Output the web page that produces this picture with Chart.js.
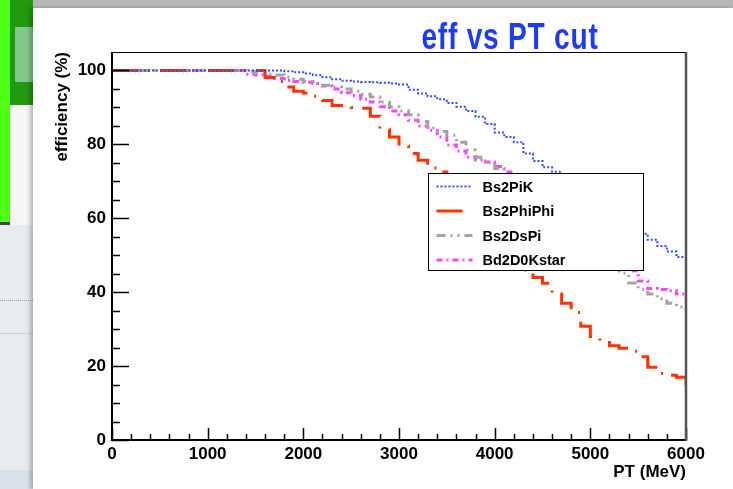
<!DOCTYPE html>
<html>
<head>
<meta charset="utf-8">
<title>eff vs PT cut</title>
<script src="https://cdn.jsdelivr.net/npm/chart.js@4.4.1/dist/chart.umd.min.js"></script>
<style>
  html, body { margin: 0; padding: 0; }
  body { width: 733px; height: 489px; position: relative; overflow: hidden; background: #e9ecef; }
  .bg { position: absolute; }
  #panel { position: absolute; left: 33px; top: 8px; width: 700px; height: 481px; background: #fff;
           box-shadow: -3px 0 4px rgba(0,0,0,0.25); }
  #title { position: absolute; left: 390px; top: 15px; width: 240px; text-align: center; white-space: nowrap;
           font-family: "Liberation Sans", Arial, sans-serif; font-weight: bold; font-size: 36px; line-height: 44px;
           color: #1f3cf2; letter-spacing: 1px; transform: scaleX(0.78); transform-origin: 50% 50%; }
</style>
</head>
<body>
<div class="bg" style="left:0;top:0;width:733px;height:8px;background:#b6b6b6"></div>
<div class="bg" style="left:0;top:0;width:10px;height:224px;background:#4dff14"></div>
<div class="bg" style="left:0;top:222px;width:10px;height:3px;background:#444"></div>
<div class="bg" style="left:10px;top:0;width:23px;height:105px;background:#22990f"></div>
<div class="bg" style="left:15px;top:27px;width:18px;height:55px;background:#7fc98a"></div>
<div class="bg" style="left:10px;top:105px;width:23px;height:120px;background:#f6f6f6"></div>
<div class="bg" style="left:0;top:300px;width:33px;height:0;border-top:1px dotted #999"></div>
<div class="bg" style="left:0;top:333px;width:33px;height:0;border-top:1px dotted #bbb"></div>
<div class="bg" style="left:0;top:470px;width:33px;height:19px;background:#d9e2ea"></div>
<div id="panel"><canvas id="effChart" width="700" height="481"></canvas></div>
<div id="title">eff vs PT cut</div>
<script>
// PT cut values (MeV), one per 100 MeV bin
const ptCuts = [0, 100, 200, 300, 400, 500, 600, 700, 800, 900,
    1000, 1100, 1200, 1300, 1400, 1500, 1600, 1700, 1800, 1900,
    2000, 2100, 2200, 2300, 2400, 2500, 2600, 2700, 2800, 2900,
    3000, 3100, 3200, 3300, 3400, 3500, 3600, 3700, 3800, 3900,
    4000, 4100, 4200, 4300, 4400, 4500, 4600, 4700, 4800, 4900,
    5000, 5100, 5200, 5300, 5400, 5500, 5600, 5700, 5800, 5900, 6000];

// efficiency (%) per channel
const effBs2PiK = [100, 100, 100, 100, 100, 100, 100, 100, 100, 100,
    100, 100, 100, 100, 100, 100, 100, 100, 99.8, 99.5,
    99.2, 98.7, 98.2, 97.6, 97.2, 97.0, 96.9, 96.8, 96.7, 96.5,
    96.2, 94.8, 93.8, 93.0, 92.2, 91.2, 90.2, 89.0, 87.5, 85.5,
    83.2, 82.0, 80.6, 77.5, 75.5, 73.8, 72.6, 71.0, 69.0, 67.0,
    65.0, 63.2, 61.5, 59.5, 57.5, 55.8, 54.2, 52.5, 51.0, 49.5, 48.2];
const effBs2PhiPhi = [100, 100, 100, 100, 100, 100, 100, 100, 100, 100,
    100, 100, 100, 100, 100, 100, 98.1, 97.0, 95.5, 94.4,
    93.9, 93.0, 91.9, 90.5, 90.1, 90.0, 89.8, 87.6, 84.1, 82.0,
    79.5, 77.5, 75.7, 73.6, 72.5, 69.8, 66.8, 64.0, 61.0, 58.0,
    55.0, 52.0, 49.0, 46.0, 44.0, 42.4, 39.5, 37.0, 34.5, 30.8,
    28.0, 26.4, 25.5, 24.8, 24.0, 22.5, 19.7, 18.0, 17.5, 17.0, 14.8];
const effBs2DsPi = [100, 100, 100, 100, 100, 100, 100, 100, 100, 100,
    100, 100, 100, 100, 99.7, 99.2, 99.0, 98.8, 98.2, 97.6,
    97.0, 96.5, 96.0, 95.5, 95.0, 94.4, 93.6, 92.8, 91.5, 90.2,
    89.0, 88.0, 86.2, 84.4, 83.5, 82.5, 80.6, 78.5, 76.5, 75.0,
    73.5, 71.8, 69.8, 67.8, 65.8, 63.8, 61.8, 59.8, 57.8, 55.6,
    53.2, 50.5, 47.5, 45.2, 42.5, 40.8, 39.5, 38.2, 37.0, 36.0, 35.2];
const effBd2D0Kstar = [100, 100, 100, 100, 100, 100, 100, 100, 100, 100,
    100, 100, 100, 100, 99.0, 98.8, 98.4, 97.8, 97.3, 97.0,
    96.8, 96.5, 95.8, 95.0, 94.0, 93.2, 92.2, 91.5, 90.2, 89.0,
    88.0, 86.5, 85.0, 83.8, 82.0, 79.8, 78.2, 76.5, 75.8, 75.2,
    74.0, 72.5, 70.5, 68.5, 66.5, 64.5, 62.5, 60.5, 58.5, 56.5,
    54.5, 52.5, 50.2, 48.0, 45.8, 43.0, 41.0, 40.7, 40.4, 39.5, 38.5];

const channelNames = ['Bs2PiK', 'Bs2PhiPhi', 'Bs2DsPi', 'Bd2D0Kstar'];

// Axis ranges and tick labels
const xRange = [0, 6000];
const yRange = [0, 105];
const xTickValues = [0, 1000, 2000, 3000, 4000, 5000, 6000];
const yTickValues = [0, 20, 40, 60, 80, 100];
const xMinorStep = 200, yMinorStep = 5;

const boldFont = '"Liberation Sans", Arial, Helvetica, sans-serif';

function toPoints(values) {
    return values.map((v, i) => ({ x: ptCuts[i], y: v }));
}

function makeDataset(label, values, color, width, dash) {
    return {
        label: label,
        data: toPoints(values),
        borderColor: color,
        backgroundColor: color,
        borderWidth: width,
        borderDash: dash,
        borderCapStyle: 'butt',
        stepped: true,
        pointRadius: 0,
        fill: false
    };
}

// Frame, inward ticks and the boxed legend, ROOT style
const rootFramePlugin = {
    id: 'rootFrame',
    afterDraw(chart) {
        const ctx = chart.ctx;
        const area = chart.chartArea;
        const xs = chart.scales.x;
        const ys = chart.scales.y;
        ctx.save();

        // ticks
        ctx.strokeStyle = '#000';
        ctx.lineWidth = 1.5;
        ctx.beginPath();
        for (let v = xRange[0]; v <= xRange[1]; v += xMinorStep) {
            const px = Math.round(xs.getPixelForValue(v)) + 0.5;
            const len = xTickValues.includes(v) ? 12 : 6;
            ctx.moveTo(px, area.bottom);
            ctx.lineTo(px, area.bottom - len);
        }
        for (let v = 0; v <= 100; v += yMinorStep) {
            const py = Math.round(ys.getPixelForValue(v)) + 0.5;
            const len = yTickValues.includes(v) ? 17 : 8;
            ctx.moveTo(area.left, py);
            ctx.lineTo(area.left + len, py);
        }
        ctx.stroke();

        // frame
        ctx.lineWidth = 1.2;
        ctx.beginPath();
        ctx.moveTo(area.left, area.top + 0.5);
        ctx.lineTo(area.right, area.top + 0.5);
        ctx.stroke();
        ctx.lineWidth = 2;
        ctx.beginPath();
        ctx.moveTo(area.left, area.top);
        ctx.lineTo(area.left, area.bottom);
        ctx.lineTo(area.right, area.bottom);
        ctx.stroke();
        ctx.strokeStyle = '#555';
        ctx.lineWidth = 2.5;
        ctx.beginPath();
        ctx.moveTo(area.right, area.top);
        ctx.lineTo(area.right, area.bottom + 1);
        ctx.stroke();

        // legend box
        const w = area.right - area.left;
        const h = area.bottom - area.top;
        const bx = Math.round(area.left + 0.551 * w) + 0.5;
        const by = Math.round(area.top + 0.311 * h) + 0.5;
        const bw = 215, bh = 97;
        ctx.fillStyle = '#fff';
        ctx.fillRect(bx, by, bw, bh);
        ctx.strokeStyle = '#000';
        ctx.lineWidth = 1;
        ctx.strokeRect(bx, by, bw, bh);

        ctx.font = 'bold 14.5px ' + boldFont;
        ctx.textBaseline = 'middle';
        ctx.textAlign = 'left';
        chart.data.datasets.forEach((ds, i) => {
            const ry = by + 13 + i * 24.5;
            ctx.save();
            ctx.strokeStyle = ds.borderColor;
            ctx.lineWidth = ds.borderWidth;
            ctx.setLineDash(ds.borderDash || []);
            ctx.beginPath();
            ctx.moveTo(bx + 8, ry);
            ctx.lineTo(bx + 44, ry);
            ctx.stroke();
            ctx.restore();
            ctx.fillStyle = '#000';
            ctx.fillText(ds.label, bx + 54, ry + 1);
        });

        ctx.restore();
    }
};

const ctx = document.getElementById('effChart').getContext('2d');
const chart = new Chart(ctx, {
    type: 'line',
    data: {
        datasets: [
            makeDataset(channelNames[0], effBs2PiK, '#2d4cff', 2, [2, 2]),
            makeDataset(channelNames[1], effBs2PhiPhi, '#ff3300', 3, [26, 10, 2, 10]),
            makeDataset(channelNames[2], effBs2DsPi, '#a3a3a3', 3, [9, 5, 2, 5, 2, 5]),
            makeDataset(channelNames[3], effBd2D0Kstar, '#ff44ff', 3, [6, 4, 2, 4])
        ]
    },
    options: {
        responsive: false,
        animation: false,
        devicePixelRatio: 1,
        layout: { padding: { top: 44, right: 47, left: 0, bottom: 0 } },
        plugins: {
            legend: { display: false },
            title: { display: false },
            tooltip: { enabled: false }
        },
        scales: {
            x: {
                type: 'linear',
                min: xRange[0],
                max: xRange[1],
                grid: { display: false, drawTicks: false },
                border: { display: false },
                ticks: {
                    padding: 4,
                    color: '#000',
                    maxRotation: 0,
                    autoSkip: false,
                    callback: (v) => String(v),
                    font: { family: boldFont, size: 17, weight: 'bold' }
                },
                title: {
                    display: true,
                    text: 'PT (MeV)',
                    align: 'end',
                    color: '#000',
                    padding: { top: 0, bottom: 6 },
                    font: { family: boldFont, size: 17, weight: 'bold' }
                },
                afterBuildTicks(scale) {
                    scale.ticks = xTickValues.map(v => ({ value: v }));
                },
                afterFit(scale) { scale.height = 49; }
            },
            y: {
                min: yRange[0],
                max: yRange[1],
                grid: { display: false, drawTicks: false },
                border: { display: false },
                ticks: {
                    padding: 6,
                    color: '#000',
                    autoSkip: false,
                    callback: (v) => String(v),
                    font: { family: boldFont, size: 17, weight: 'bold' }
                },
                title: {
                    display: true,
                    text: 'efficiency (%)',
                    align: 'end',
                    color: '#000',
                    padding: { top: 19, bottom: 0 },
                    font: { family: boldFont, size: 17, weight: 'bold' }
                },
                afterBuildTicks(scale) {
                    scale.ticks = yTickValues.map(v => ({ value: v }));
                },
                afterFit(scale) { scale.width = 79; }
            }
        }
    },
    plugins: [rootFramePlugin]
});
</script>
</body>
</html>
